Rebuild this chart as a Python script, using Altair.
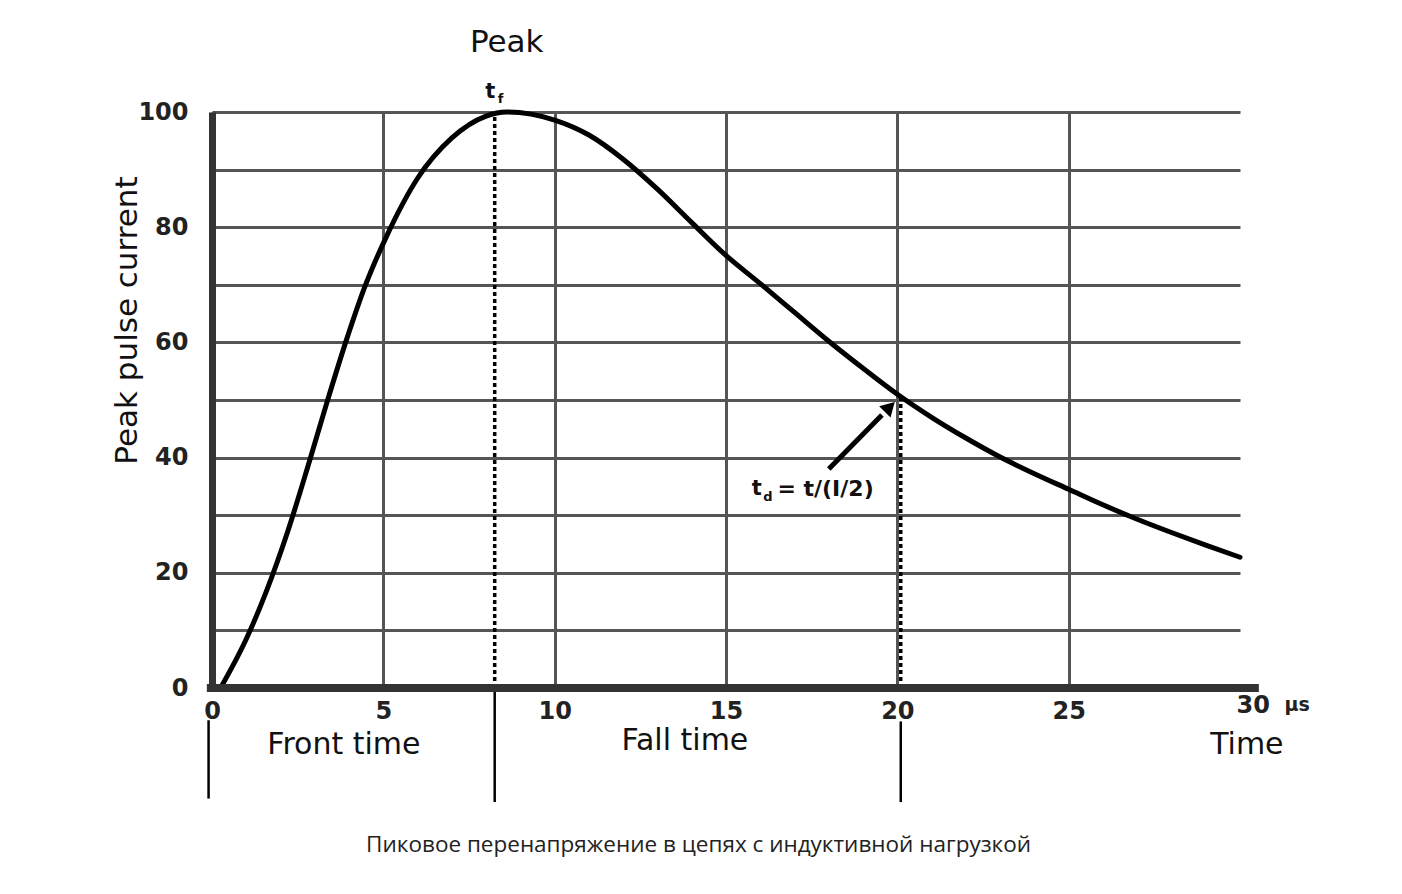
import altair as alt
import pandas as pd

# ---- data ----
curve_t = [0.25, 1.0, 1.6, 2.2, 2.8, 3.35, 3.9, 4.45, 5.1, 6.0, 7.0, 8.0, 8.6,
           10.0, 11.0, 12.0, 13.0, 14.0, 15.0, 16.0, 17.0, 18.0, 19.0, 20.0,
           21.0, 22.0, 23.0, 24.0, 25.0, 26.0, 27.0, 28.0, 29.0, 30.0]
curve_i = [0.0, 8.5, 17.0, 27.0, 38.5, 49.5, 60.0, 69.5, 78.5, 88.5, 95.5, 99.3, 100.0,
           98.6, 96.0, 91.8, 86.6, 80.8, 75.1, 70.2, 65.2, 60.2, 55.5, 51.0,
           47.0, 43.4, 40.1, 37.2, 34.5, 31.8, 29.3, 27.0, 24.8, 22.7]

x_ticks = [0, 5, 10, 15, 20, 25]
y_grid = [0, 10, 20, 30, 40, 50, 60, 70, 80, 90, 100]

marker_t = [8.25, 20.1]          # dotted markers t_f and t_d
marker_top = [99.5, 50.5]

lead_t = [-0.1, 8.25, 20.1]      # solid lead lines under the axis
lead_top = [-5.6, 0.0, -5.8]
lead_bottom = [-19.2, -19.8, -19.8]

axis_t = [-0.15]
axis_t2 = [30.55]
axis_i = [0.0]

arrow_t = [18.0, 19.55]
arrow_i = [38.0, 47.4]
head_t = [19.78]
head_i = [48.8]

section_text = ["Front time", "Fall time", "Time"]
section_t = [3.85, 13.8, 30.2]
section_i = [-9.9, -9.2, -9.9]

peak_text = ["Peak"]
peak_t = [8.6]
peak_i = [112.0]

sym_text = ["t", "t"]
sym_t = [8.12, 15.9]
sym_i = [103.5, 34.6]
sub_text = ["f", "d"]
sub_t = [8.42, 16.22]
sub_i = [102.2, 33.2]
eq_text = ["= t/(I/2)"]
eq_t = [16.5]
eq_i = [34.6]

end_text = ["30", "µs"]
end_t = [29.9, 31.3]
end_i = [-3.2, -3.0]

caption_text = ["Пиковое перенапряжение в цепях с индуктивной нагрузкой"]
caption_t = [14.2]
caption_i = [-27.3]

# ---- scales and axes ----
FONT = "DejaVu Sans"
XS = alt.Scale(domain=[0, 30], nice=False, zero=False)
YS = alt.Scale(domain=[0, 100], nice=False, zero=False)

XA = alt.Axis(
    values=x_ticks, grid=True, gridColor="#555555", gridWidth=3,
    domain=False, ticks=False, title=None, labelFlush=False, labelOverlap=False,
    labelFont=FONT, labelFontWeight="bold", labelFontSize=24, labelColor="#222222",
    labelPadding=11)
YA = alt.Axis(
    values=y_grid, grid=True, gridColor="#555555", gridWidth=3,
    domainColor="#333333", domainWidth=7, ticks=False, labelFlush=False,
    labelOverlap=False,
    labelExpr="datum.value % 20 == 0 ? datum.label : ''",
    labelFont=FONT, labelFontWeight="bold", labelFontSize=24, labelColor="#222222",
    labelPadding=24,
    title="Peak pulse current", titleFont=FONT, titleFontSize=31,
    titleFontWeight="normal", titleColor="#111111", titleX=-85, titleY=208,
    titleAlign="center", titleBaseline="middle")


def X(f):
    return alt.X(f, type="quantitative", scale=XS, axis=XA)


def Y(f):
    return alt.Y(f, type="quantitative", scale=YS, axis=YA)


curve_df = pd.DataFrame({"t": curve_t, "i": curve_i})
curve = alt.Chart(curve_df).mark_line(
    color="black", strokeWidth=5, interpolate="monotone", strokeCap="round"
).encode(x=X("t"), y=Y("i"))

markers = alt.Chart(pd.DataFrame({"t": marker_t, "top": marker_top, "bot": [0, 0]})).mark_rule(
    color="black", strokeWidth=3.5, strokeDash=[4, 3]
).encode(x=X("t"), y=Y("bot"), y2="top:Q")

leads = alt.Chart(pd.DataFrame({"t": lead_t, "top": lead_top, "bot": lead_bottom})).mark_rule(
    color="black", strokeWidth=2.5
).encode(x=X("t"), y=Y("top"), y2="bot:Q")

base_axis = alt.Chart(pd.DataFrame({"t": axis_t, "t2": axis_t2, "i": axis_i})).mark_rule(
    color="#333333", strokeWidth=8
).encode(x=X("t"), x2="t2:Q", y=Y("i"))

arrow = alt.Chart(pd.DataFrame({"t": arrow_t, "i": arrow_i})).mark_line(
    color="black", strokeWidth=5
).encode(x=X("t"), y=Y("i"))

head = alt.Chart(pd.DataFrame({"t": head_t, "i": head_i})).mark_point(
    shape="triangle-up", size=260, angle=45, filled=True, color="black", opacity=1
).encode(x=X("t"), y=Y("i"))


def text_layer(texts, ts, is_, size, weight="normal", align="center", font=FONT, color="#111111"):
    df = pd.DataFrame({"label": texts, "t": ts, "i": is_})
    return alt.Chart(df).mark_text(
        font=font, fontSize=size, fontWeight=weight, align=align, baseline="middle",
        color=color
    ).encode(x=X("t"), y=Y("i"), text="label:N")


sections = text_layer(section_text, section_t, section_i, 30)
peak = text_layer(peak_text, peak_t, peak_i, 31)
syms = text_layer(sym_text, sym_t, sym_i, 21, weight="bold")
subs = text_layer(sub_text, sub_t, sub_i, 13, weight="bold")
eq = text_layer(eq_text, eq_t, eq_i, 22, weight="bold", align="left")
end30 = alt.Chart(pd.DataFrame({"label": end_text, "t": end_t, "i": end_i, "sz": [24, 19]})).mark_text(
    font=FONT, fontWeight="bold", align="left", baseline="middle", color="#222222"
).encode(x=X("t"), y=Y("i"), text="label:N", size=alt.Size("sz:Q", scale=None, legend=None))
caption = text_layer(caption_text, caption_t, caption_i, 22.5, font="Open Sans", color="#222222")

chart = alt.layer(
    markers, leads, curve, arrow, head, base_axis,
    sections, peak, syms, subs, eq, end30, caption
).properties(
    width=1028, height=576,
    autosize=alt.AutoSizeParams(type="none"),
    padding={"left": 204, "top": 104, "right": 154, "bottom": 198},
    background="white",
).configure_view(stroke=None)

chart.save("out.html", embed_options={"renderer": "svg", "actions": False})
